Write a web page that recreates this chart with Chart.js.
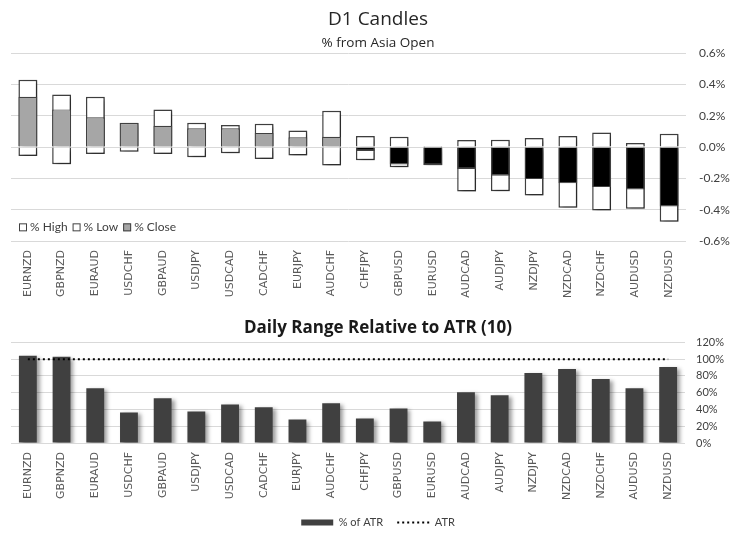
<!DOCTYPE html>
<html>
<head>
<meta charset="utf-8">
<script src="https://cdn.jsdelivr.net/npm/chart.js@4.4.1/dist/chart.umd.min.js"></script>
<style>
  body { margin: 0; background: #fff; }
  .box { position: relative; width: 745px; }
</style>
</head>
<body>
<div class="box" style="height:310px"><canvas id="candleChart"></canvas></div>
<div class="box" style="height:234px"><canvas id="atrChart"></canvas></div>
<script>
const pairs = ['EURNZD', 'GBPNZD', 'EURAUD', 'USDCHF', 'GBPAUD', 'USDJPY', 'USDCAD', 'CADCHF', 'EURJPY', 'AUDCHF',
    'CHFJPY', 'GBPUSD', 'EURUSD', 'AUDCAD', 'AUDJPY', 'NZDJPY', 'NZDCAD', 'NZDCHF', 'AUDUSD', 'NZDUSD'];

// % from Asia open
const highPct = [0.43, 0.335, 0.32, 0.155, 0.24, 0.155, 0.14, 0.148, 0.105, 0.232,
    0.071, 0.065, 0.006, 0.045, 0.047, 0.058, 0.071, 0.092, 0.026, 0.084];
const lowPct = [-0.058, -0.11, -0.045, -0.03, -0.045, -0.065, -0.04, -0.077, -0.054, -0.118,
    -0.084, -0.129, -0.117, -0.284, -0.282, -0.31, -0.387, -0.406, -0.394, -0.477];
const closePct = [0.32, 0.24, 0.19, 0.153, 0.135, 0.12, 0.12, 0.09, 0.062, 0.065,
    -0.026, -0.112, -0.115, -0.14, -0.183, -0.205, -0.232, -0.256, -0.271, -0.379];

// daily range vs ATR(10)
const atrPct = [104, 103, 65.4, 36.5, 53.4, 37.7, 46, 42.5, 28, 47.3,
    29.3, 41.3, 25.7, 60.6, 57, 83.5, 88.3, 76.3, 65.4, 90.7];
const atrLevel = [100, 100, 100, 100, 100, 100, 100, 100, 100, 100,
    100, 100, 100, 100, 100, 100, 100, 100, 100, 100];

const pctTicks = [-0.6, -0.4, -0.2, 0.0, 0.2, 0.4, 0.6];
const atrTicks = [0, 20, 40, 60, 80, 100, 120];

const axisGray = '#404040';
const gridGray = '#d9d9d9';
const atrDash = [2, 3];

// drop shadow on datasets flagged with shadow: true
const shadowPlugin = {
    id: 'barShadow',
    beforeDatasetDraw(chart, args) {
        const ds = chart.data.datasets[args.index];
        if (!ds.shadow) return;
        const ctx = chart.ctx;
        ctx.save();
        ctx.shadowColor = 'rgba(0,0,0,0.38)';
        ctx.shadowBlur = 4;
        ctx.shadowOffsetX = 3;
        ctx.shadowOffsetY = 2;
    },
    afterDatasetDraw(chart, args) {
        const ds = chart.data.datasets[args.index];
        if (ds.shadow) chart.ctx.restore();
    }
};

// legend drawn inside the plot, bottom-left, like the original
const candleLegend = {
    id: 'candleLegend',
    afterDatasetsDraw(chart) {
        const ctx = chart.ctx;
        const y = chart.scales.y;
        const cy = (y.getPixelForValue(-0.4) + y.getPixelForValue(-0.6)) / 2 + 2;
        let x = chart.chartArea.left + 8;
        ctx.save();
        ctx.font = '12px Lato';
        ctx.textBaseline = 'middle';
        chart.data.datasets.forEach((ds) => {
            ctx.fillStyle = ds.legendFill;
            ctx.fillRect(x, cy - 4, 8, 8);
            ctx.strokeStyle = axisGray;
            ctx.lineWidth = 1;
            ctx.strokeRect(x + 0.5, cy - 3.5, 7, 7);
            x += 11;
            ctx.fillStyle = axisGray;
            ctx.fillText(ds.label, x, cy);
            x += ctx.measureText(ds.label).width + 5;
        });
        ctx.restore();
    }
};

const xTicks = {
    minRotation: 90,
    maxRotation: 90,
    autoSkip: false,
    padding: 9,
    color: '#595959',
    font: { family: 'DejaVu Sans', size: 11 }
};

const ctx = document.getElementById('candleChart');
const candleChart = new Chart(ctx, { // eslint-disable-line
    type: 'bar',
    data: {
        labels: pairs,
        datasets: [{
            label: '% High',
            data: highPct.map((v) => [0, v]),
            backgroundColor: '#ffffff',
            legendFill: '#ffffff',
            borderColor: axisGray,
            borderWidth: 1.5,
            borderSkipped: 'start',
            shadow: true,
            order: 2
        }, {
            label: '% Low',
            data: lowPct.map((v) => [0, v]),
            backgroundColor: '#ffffff',
            legendFill: '#ffffff',
            borderColor: axisGray,
            borderWidth: 1.5,
            borderSkipped: 'start',
            shadow: true,
            order: 1
        }, {
            label: '% Close',
            data: closePct.map((v) => [0, v]),
            backgroundColor: (c) => (c.raw && c.raw[1] < 0) ? '#000000' : '#a6a6a6',
            legendFill: '#a6a6a6',
            borderColor: axisGray,
            borderWidth: 1.2,
            borderSkipped: 'start',
            order: 0
        }]
    },
    options: {
        responsive: true,
        maintainAspectRatio: false,
        animation: false,
        grouped: false,
        categoryPercentage: 1,
        barPercentage: 0.56,
        layout: { padding: { left: 11, right: 0, top: 0, bottom: 10 } },
        plugins: {
            legend: { display: false },
            tooltip: { enabled: false },
            title: {
                display: true,
                text: 'D1 Candles',
                color: '#262626',
                font: { family: 'Open Sans', size: 19, weight: 'normal' },
                padding: { top: 8, bottom: 2 }
            },
            subtitle: {
                display: true,
                text: '% from Asia Open',
                color: '#262626',
                font: { family: 'Open Sans', size: 13.5 },
                padding: { top: 2, bottom: 2 }
            }
        },
        scales: {
            x: {
                grid: { display: false, drawTicks: false },
                border: { display: false },
                afterFit: (s) => { s.height = 59; },
                ticks: xTicks
            },
            y: {
                position: 'right',
                min: pctTicks[0],
                max: pctTicks[pctTicks.length - 1],
                afterBuildTicks: (s) => { s.ticks = pctTicks.map((v) => ({ value: v })); },
                afterFit: (s) => { s.width = 59; },
                grid: { color: gridGray, drawTicks: false },
                border: { display: false },
                ticks: {
                    padding: 13,
                    color: axisGray,
                    font: { family: 'Lato', size: 12 },
                    callback: (v) => v.toFixed(1) + '%'
                }
            }
        }
    },
    plugins: [shadowPlugin, candleLegend]
});

const ctx2 = document.getElementById('atrChart');
const atrChart = new Chart(ctx2, { // eslint-disable-line
    type: 'bar',
    data: {
        labels: pairs,
        datasets: [{
            type: 'line',
            label: 'ATR',
            data: atrLevel,
            borderColor: '#000000',
            backgroundColor: '#000000',
            borderWidth: 2,
            borderDash: atrDash,
            pointRadius: 0,
            pointStyle: 'line',
            order: 0
        }, {
            label: '% of ATR',
            data: atrPct,
            backgroundColor: axisGray,
            borderWidth: 0,
            pointStyle: 'rect',
            shadow: true,
            categoryPercentage: 1,
            barPercentage: 0.53,
            order: 1
        }]
    },
    options: {
        responsive: true,
        maintainAspectRatio: false,
        animation: false,
        layout: { padding: { left: 11, right: 0, top: 0, bottom: 6 } },
        plugins: {
            tooltip: { enabled: false },
            title: {
                display: true,
                text: 'Daily Range Relative to ATR (10)',
                color: '#1a1a1a',
                font: { family: 'Open Sans', size: 17, weight: 'bold' },
                padding: { top: 8, bottom: 4 }
            },
            legend: {
                position: 'bottom',
                reverse: true,
                labels: {
                    usePointStyle: true,
                    pointStyleWidth: 32,
                    boxHeight: 6,
                    padding: 14,
                    color: axisGray,
                    font: { family: 'Lato', size: 11 },
                    generateLabels: (chart) => {
                        const items = Chart.defaults.plugins.legend.labels.generateLabels(chart);
                        items.forEach((item) => {
                            if (item.text === 'ATR') {
                                item.lineDash = atrDash;
                                item.lineWidth = 2;
                            }
                        });
                        return items;
                    }
                }
            }
        },
        scales: {
            x: {
                grid: { display: false, drawTicks: false },
                border: { display: false },
                afterFit: (s) => { s.height = 60; },
                ticks: xTicks
            },
            y: {
                position: 'right',
                min: atrTicks[0],
                max: atrTicks[atrTicks.length - 1],
                afterBuildTicks: (s) => { s.ticks = atrTicks.map((v) => ({ value: v })); },
                afterFit: (s) => { s.width = 60; },
                grid: { color: gridGray, drawTicks: false },
                border: { display: false },
                ticks: {
                    padding: 11,
                    color: axisGray,
                    font: { family: 'Lato', size: 11 },
                    callback: (v) => v + '%'
                }
            }
        }
    },
    plugins: [shadowPlugin]
});
</script>
</body>
</html>
